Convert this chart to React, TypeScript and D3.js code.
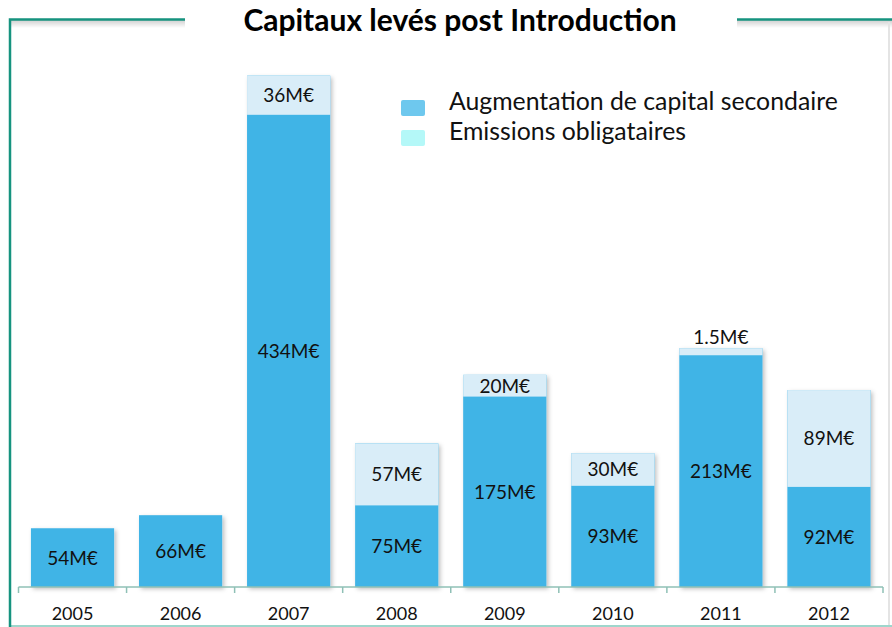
import React, { useEffect, useRef } from "react";
import * as d3 from "d3";

const years = ["2005", "2006", "2007", "2008", "2009", "2010", "2011", "2012"];
// Augmentation de capital secondaire (M€)
const capitalValues = [54, 66, 434, 75, 175, 93, 213, 92];
// Emissions obligataires (M€), heights as drawn
const bondValues = [0, 0, 36, 57, 20, 30, 6.5, 89];
const capitalLabels = ["54M€", "66M€", "434M€", "75M€", "175M€", "93M€", "213M€", "92M€"];
const bondLabels = ["", "", "36M€", "57M€", "20M€", "30M€", "1.5M€", "89M€"];
const legendLabels = ["Augmentation de capital secondaire", "Emissions obligataires"];

const W = 892;
const H = 627;
const FONT = "Lato, 'Open Sans', sans-serif";

export default function App() {
  const ref = useRef<SVGSVGElement>(null);

  useEffect(() => {
    const svg = d3.select(ref.current);
    svg.selectAll("*").remove();

    const baseY = 587;
    const x = d3.scaleBand().domain(years).range([18.5, 883]).paddingInner(0.23).paddingOuter(0.115);
    const y = d3.scaleLinear().domain([0, 500]).range([baseY, baseY - 544]);

    const defs = svg.append("defs");
    const sh = defs.append("filter").attr("id", "sh").attr("x", "-10%").attr("y", "-10%").attr("width", "130%").attr("height", "130%");
    sh.append("feDropShadow").attr("dx", 2).attr("dy", 2).attr("stdDeviation", 2).attr("flood-color", "#000").attr("flood-opacity", 0.25);
    const grad = defs.append("linearGradient").attr("id", "topShade").attr("x1", 0).attr("y1", 0).attr("x2", 0).attr("y2", 1);
    grad.append("stop").attr("offset", 0).attr("stop-color", "#cfcfcf");
    grad.append("stop").attr("offset", 1).attr("stop-color", "#ffffff");

    // frame
    svg.append("rect").attr("x", 11).attr("y", 20).attr("width", 174).attr("height", 8).attr("fill", "url(#topShade)");
    svg.append("rect").attr("x", 737).attr("y", 20).attr("width", 155).attr("height", 8).attr("fill", "url(#topShade)");
    svg.append("line").attr("x1", 889).attr("x2", 889).attr("y1", 22).attr("y2", 627).attr("stroke", "#e4e4e4").attr("stroke-width", 2);
    svg.append("line").attr("x1", 10).attr("x2", 892).attr("y1", 626).attr("y2", 626).attr("stroke", "#9fd6cc").attr("stroke-width", 2);
    svg.append("path").attr("d", "M10,627 V19.5 H185").attr("fill", "none").attr("stroke", "#16937f").attr("stroke-width", 2.5);
    svg.append("line").attr("x1", 737).attr("x2", 892).attr("y1", 19.5).attr("y2", 19.5).attr("stroke", "#16937f").attr("stroke-width", 2.5);

    // title
    svg.append("text").attr("x", 460).attr("y", 31).attr("text-anchor", "middle")
      .attr("font-family", FONT).attr("font-weight", "bold").attr("font-size", 30).attr("fill", "#000")
      .text("Capitaux levés post Introduction");

    // bars
    const g = svg.append("g");
    years.forEach((yr, i) => {
      const x0 = x(yr)!;
      const bw = x.bandwidth();
      const capTop = y(capitalValues[i]);
      const bondTop = y(capitalValues[i] + bondValues[i]);
      g.append("rect").attr("x", x0).attr("y", bondTop).attr("width", bw).attr("height", baseY - bondTop)
        .attr("fill", "#41b4e6").attr("filter", "url(#sh)");
      if (bondValues[i] > 0) {
        g.append("rect").attr("x", x0).attr("y", bondTop).attr("width", bw).attr("height", capTop - bondTop).attr("fill", "#d9edf8");
      }
      const cx = x0 + bw / 2;
      g.append("text").attr("x", cx).attr("y", (capTop + baseY) / 2 + 7).attr("text-anchor", "middle")
        .attr("font-family", FONT).attr("font-size", 19).attr("fill", "#111").text(capitalLabels[i]);
      if (bondLabels[i]) {
        const small = capTop - bondTop < 20;
        const ly = small ? bondTop - 4 : (bondTop + capTop) / 2 + 7;
        g.append("text").attr("x", cx).attr("y", ly).attr("text-anchor", "middle")
          .attr("font-family", FONT).attr("font-size", 19).attr("fill", "#111").text(bondLabels[i]);
      }
    });

    // axis
    const axisColor = "#8fc0b6";
    svg.append("line").attr("x1", 18.5).attr("x2", 883).attr("y1", baseY).attr("y2", baseY).attr("stroke", axisColor).attr("stroke-width", 1.5);
    const step = x.step();
    d3.range(years.length + 1).forEach((k) => {
      const tx = 18.5 + k * step;
      svg.append("line").attr("x1", tx).attr("x2", tx).attr("y1", baseY).attr("y2", baseY + 6).attr("stroke", axisColor).attr("stroke-width", 1.5);
    });
    years.forEach((yr) => {
      svg.append("text").attr("x", x(yr)! + x.bandwidth() / 2).attr("y", 620).attr("text-anchor", "middle")
        .attr("font-family", FONT).attr("font-size", 18).attr("fill", "#111").text(yr);
    });

    // legend
    const legColors = ["#6ec8ee", "#b4f8f8"];
    legendLabels.forEach((lab, i) => {
      const ly = 100 + i * 30;
      svg.append("rect").attr("x", 401).attr("y", ly).attr("width", 24).attr("height", 16).attr("rx", 2).attr("fill", legColors[i]);
      svg.append("text").attr("x", 449).attr("y", ly + 10).attr("font-family", FONT).attr("font-size", 24.8)
        .attr("fill", "#111").text(lab);
    });
  }, []);

  return (
    <div style={{ position: "absolute", left: 0, top: 0 }}>
      <svg ref={ref} width={W} height={H} style={{ display: "block", background: "#fff" }} />
    </div>
  );
}
